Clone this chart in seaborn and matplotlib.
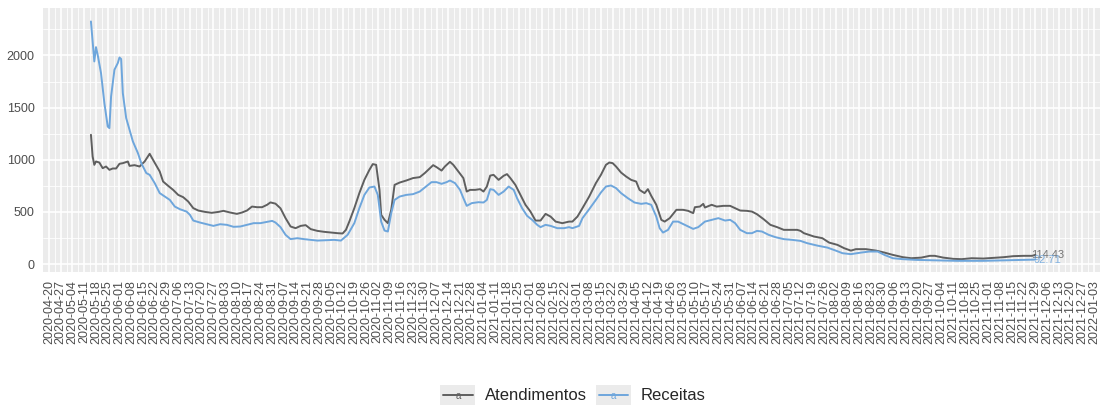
import matplotlib
matplotlib.use("Agg")
import pandas as pd
import matplotlib.pyplot as plt
import matplotlib.ticker as mticker
import matplotlib.dates as mdates
import seaborn as sns
from matplotlib.lines import Line2D
from matplotlib.patches import Rectangle
from matplotlib.text import Text
from matplotlib.legend_handler import HandlerBase

# --- dados ------------------------------------------------------------------
atend_datas = [
    "2020-05-15", "2020-05-16", "2020-05-17", "2020-05-18", "2020-05-20", "2020-05-22", "2020-05-24",
    "2020-05-26", "2020-05-28", "2020-05-30", "2020-06-01", "2020-06-03", "2020-06-06", "2020-06-07",
    "2020-06-10", "2020-06-13", "2020-06-16", "2020-06-19", "2020-06-21", "2020-06-25", "2020-06-27",
    "2020-06-30", "2020-07-03", "2020-07-06", "2020-07-09", "2020-07-12", "2020-07-15", "2020-07-18",
    "2020-07-22", "2020-07-26", "2020-07-30", "2020-08-02", "2020-08-06", "2020-08-10", "2020-08-13",
    "2020-08-16", "2020-08-19", "2020-08-22", "2020-08-25", "2020-08-28", "2020-08-30", "2020-09-02",
    "2020-09-05", "2020-09-08", "2020-09-11", "2020-09-14", "2020-09-17", "2020-09-20", "2020-09-23",
    "2020-09-27", "2020-10-01", "2020-10-05", "2020-10-09", "2020-10-12", "2020-10-14", "2020-10-16",
    "2020-10-19", "2020-10-22", "2020-10-25", "2020-10-28", "2020-10-30", "2020-11-01", "2020-11-03",
    "2020-11-04", "2020-11-06", "2020-11-08", "2020-11-10", "2020-11-12", "2020-11-15", "2020-11-19",
    "2020-11-23", "2020-11-27", "2020-11-30", "2020-12-05", "2020-12-07", "2020-12-10", "2020-12-12",
    "2020-12-15", "2020-12-17", "2020-12-20", "2020-12-23", "2020-12-25", "2020-12-27", "2020-12-30",
    "2021-01-02", "2021-01-04", "2021-01-06", "2021-01-08", "2021-01-10", "2021-01-13", "2021-01-16",
    "2021-01-18", "2021-01-20", "2021-01-23", "2021-01-26", "2021-01-29", "2021-02-01", "2021-02-04",
    "2021-02-07", "2021-02-10", "2021-02-13", "2021-02-16", "2021-02-20", "2021-02-24", "2021-02-26",
    "2021-03-01", "2021-03-04", "2021-03-08", "2021-03-12", "2021-03-15", "2021-03-18", "2021-03-20",
    "2021-03-22", "2021-03-24", "2021-03-27", "2021-03-30", "2021-04-02", "2021-04-05", "2021-04-07",
    "2021-04-10", "2021-04-12", "2021-04-14", "2021-04-17", "2021-04-20", "2021-04-22", "2021-04-25",
    "2021-04-29", "2021-05-03", "2021-05-06", "2021-05-09", "2021-05-10", "2021-05-13", "2021-05-15",
    "2021-05-16", "2021-05-20", "2021-05-23", "2021-05-27", "2021-05-31", "2021-06-03", "2021-06-06",
    "2021-06-10", "2021-06-13", "2021-06-16", "2021-06-20", "2021-06-24", "2021-06-28", "2021-07-02",
    "2021-07-06", "2021-07-10", "2021-07-12", "2021-07-14", "2021-07-20", "2021-07-25", "2021-07-29",
    "2021-08-03", "2021-08-07", "2021-08-11", "2021-08-14", "2021-08-20", "2021-08-26", "2021-08-31",
    "2021-09-05", "2021-09-11", "2021-09-16", "2021-09-22", "2021-09-27", "2021-09-30", "2021-10-05",
    "2021-10-11", "2021-10-16", "2021-10-22", "2021-10-29", "2021-11-04", "2021-11-10", "2021-11-16",
    "2021-11-22", "2021-11-27", "2021-11-29",
]
atend_valores = [
    1240, 1032, 952, 984, 974, 920, 936, 904, 917, 917, 962, 968, 984, 942,
    949, 936, 984, 1058, 1000, 888, 792, 751, 712, 664, 642, 600, 537, 514,
    501, 492, 501, 511, 495, 482, 495, 514, 552, 546, 546, 569, 592, 580,
    535, 441, 361, 345, 367, 374, 336, 319, 310, 303, 297, 294, 329, 408,
    537, 681, 808, 904, 959, 952, 712, 473, 425, 393, 521, 760, 782, 802,
    825, 834, 873, 949, 930, 897, 936, 981, 952, 888, 825, 696, 712, 712,
    719, 696, 744, 849, 856, 808, 847, 863, 825, 760, 664, 569, 504, 418,
    418, 482, 456, 408, 393, 408, 408, 456, 537, 648, 777, 856, 952, 974,
    968, 936, 878, 840, 808, 792, 712, 681, 719, 655, 569, 425, 408, 441,
    521, 521, 511, 489, 546, 552, 578, 543, 569, 552, 559, 559, 537, 514,
    511, 504, 479, 431, 377, 355, 329, 329, 329, 319, 297, 265, 249, 207,
    185, 153, 130, 144, 144, 130, 111, 89, 67, 57, 63, 80, 80, 63,
    51, 48, 57, 54, 60, 67, 77, 80, 80, 89,
]

rec_datas = [
    "2020-05-15", "2020-05-17", "2020-05-18", "2020-05-19", "2020-05-21", "2020-05-23", "2020-05-25",
    "2020-05-26", "2020-05-27", "2020-05-29", "2020-05-31", "2020-06-01", "2020-06-02", "2020-06-03",
    "2020-06-05", "2020-06-07", "2020-06-09", "2020-06-12", "2020-06-14", "2020-06-17", "2020-06-19",
    "2020-06-22", "2020-06-25", "2020-06-28", "2020-07-01", "2020-07-04", "2020-07-07", "2020-07-11",
    "2020-07-13", "2020-07-15", "2020-07-19", "2020-07-23", "2020-07-27", "2020-07-31", "2020-08-04",
    "2020-08-08", "2020-08-12", "2020-08-16", "2020-08-20", "2020-08-24", "2020-08-28", "2020-08-31",
    "2020-09-02", "2020-09-05", "2020-09-08", "2020-09-11", "2020-09-15", "2020-09-19", "2020-09-23",
    "2020-09-27", "2020-10-02", "2020-10-07", "2020-10-11", "2020-10-15", "2020-10-19", "2020-10-22",
    "2020-10-25", "2020-10-28", "2020-10-31", "2020-11-02", "2020-11-04", "2020-11-06", "2020-11-08",
    "2020-11-10", "2020-11-12", "2020-11-15", "2020-11-19", "2020-11-23", "2020-11-27", "2020-11-30",
    "2020-12-04", "2020-12-07", "2020-12-10", "2020-12-13", "2020-12-15", "2020-12-18", "2020-12-21",
    "2020-12-23", "2020-12-25", "2020-12-28", "2021-01-01", "2021-01-04", "2021-01-06", "2021-01-08",
    "2021-01-10", "2021-01-13", "2021-01-16", "2021-01-19", "2021-01-22", "2021-01-24", "2021-01-27",
    "2021-01-30", "2021-02-02", "2021-02-05", "2021-02-07", "2021-02-10", "2021-02-13", "2021-02-17",
    "2021-02-21", "2021-02-24", "2021-02-26", "2021-03-02", "2021-03-04", "2021-03-08", "2021-03-12",
    "2021-03-15", "2021-03-18", "2021-03-21", "2021-03-24", "2021-03-27", "2021-03-31", "2021-04-04",
    "2021-04-08", "2021-04-11", "2021-04-14", "2021-04-17", "2021-04-19", "2021-04-21", "2021-04-24",
    "2021-04-27", "2021-04-30", "2021-05-04", "2021-05-09", "2021-05-12", "2021-05-16", "2021-05-20",
    "2021-05-24", "2021-05-28", "2021-05-31", "2021-06-03", "2021-06-06", "2021-06-10", "2021-06-13",
    "2021-06-16", "2021-06-19", "2021-06-23", "2021-06-27", "2021-07-02", "2021-07-07", "2021-07-12",
    "2021-07-16", "2021-07-22", "2021-07-28", "2021-08-02", "2021-08-06", "2021-08-11", "2021-08-17",
    "2021-08-22", "2021-08-27", "2021-08-31", "2021-09-05", "2021-09-11", "2021-09-19", "2021-09-27",
    "2021-10-05", "2021-10-13", "2021-10-21", "2021-10-29", "2021-11-06", "2021-11-14", "2021-11-22",
    "2021-11-29",
]
rec_valores = [
    2326, 1943, 2080, 2007, 1831, 1544, 1319, 1304, 1607, 1863, 1927, 1981, 1966, 1639,
    1400, 1288, 1176, 1064, 968, 873, 856, 777, 681, 648, 616, 552, 527, 504,
    473, 418, 399, 383, 367, 383, 377, 358, 361, 377, 393, 393, 406, 415,
    399, 355, 281, 240, 249, 240, 233, 226, 230, 233, 226, 281, 393, 537,
    664, 735, 744, 664, 408, 322, 313, 489, 616, 648, 664, 671, 696, 735,
    786, 786, 770, 786, 802, 777, 712, 633, 559, 585, 594, 591, 616, 719,
    712, 664, 696, 744, 712, 633, 537, 463, 425, 377, 355, 377, 367, 345,
    345, 355, 345, 367, 441, 527, 616, 687, 744, 754, 729, 681, 633, 591,
    578, 585, 569, 456, 345, 303, 329, 408, 408, 377, 338, 355, 408, 425,
    441, 418, 425, 393, 329, 297, 297, 319, 313, 281, 259, 240, 233, 223,
    201, 178, 159, 130, 105, 96, 111, 121, 121, 89, 57, 48, 41, 38,
    35, 32, 32, 32, 35, 38, 41, 44,
]

series = ["Atendimentos", "Receitas"]
cores = ["#5f5f5f", "#6ea6dc"]
rotulos_fim = ["114.43", "92.71"]

# --- montagem ----------------------------------------------------------------
df = pd.concat([
    pd.DataFrame({"data": pd.to_datetime(atend_datas), "valor": atend_valores, "serie": series[0]}),
    pd.DataFrame({"data": pd.to_datetime(rec_datas), "valor": rec_valores, "serie": series[1]}),
])

sns.set_theme(style="white")
plt.rcParams["font.family"] = ["Liberation Sans", "DejaVu Sans"]

fig = plt.figure(figsize=(11.02, 4.07), dpi=100)
ax = fig.add_axes([43 / 1102, 1 - 272 / 407, 1057 / 1102, 264 / 407])
ax.set_facecolor("#EBEBEB")

sns.lineplot(data=df, x="data", y="valor", hue="serie", palette=dict(zip(series, cores)),
             linewidth=1.4, legend=False, ax=ax, zorder=3)

# rótulos no fim de cada série (sobrepostos como no original)
for nome, cor, rot in zip(series, cores, rotulos_fim):
    ultimo = df[df["serie"] == nome].iloc[-1]
    ax.text(ultimo["data"] + pd.Timedelta(days=7), ultimo["valor"], rot, color=cor,
            fontsize=8, ha="center", va="center", alpha=0.85, zorder=4)

semanas = pd.date_range("2020-04-20", "2022-01-03", freq="7D")
ax.set_xticks(semanas)
ax.set_xticklabels([d.strftime("%Y-%m-%d") for d in semanas])
ax.xaxis.set_minor_locator(mticker.FixedLocator(mdates.date2num(semanas[:-1] + pd.Timedelta(days=3.5))))
ax.set_yticks([0, 500, 1000, 1500, 2000])
ax.yaxis.set_minor_locator(mticker.FixedLocator([250, 750, 1250, 1750, 2250]))

ax.set_xlim(pd.Timestamp("2020-04-16 10:00"), pd.Timestamp("2022-01-06 12:00"))
ax.set_ylim(-75, 2455)

ax.grid(which="major", color="white", linewidth=1.2)
ax.grid(which="minor", color="white", linewidth=0.6)
ax.set_axisbelow(True)
for s in ax.spines.values():
    s.set_visible(False)

ax.tick_params(axis="x", which="major", labelrotation=90, length=4, width=1.6,
               color="#333333", labelsize=9, labelcolor="#4D4D4D", pad=2)
ax.tick_params(axis="y", which="major", length=4, width=1.4,
               color="#333333", labelsize=9, labelcolor="#4D4D4D", pad=2)
ax.tick_params(which="minor", length=0)
ax.set_xlabel("")
ax.set_ylabel("")


class ChaveGG(HandlerBase):
    """Chave de legenda no estilo ggplot: fundo cinza, linha e um 'a'."""

    def create_artists(self, legend, orig, xd, yd, w, h, fs, trans):
        fundo = Rectangle((-xd, -yd), w, h, facecolor="#EBEBEB", edgecolor="none", transform=trans)
        ym = -yd + h / 2
        linha = Line2D([-xd + 2, -xd + w - 2], [ym, ym], color=orig.get_color(),
                       linewidth=1.4, transform=trans)
        letra = Text(-xd + w / 2, ym - 1, "a", color=orig.get_color(), fontsize=7,
                     ha="center", va="center", transform=trans)
        return [fundo, linha, letra]


alcas = [Line2D([], [], color=c) for c in cores]
fig.legend(alcas, series, handler_map={Line2D: ChaveGG()}, loc="center",
           bbox_to_anchor=(573 / 1102, 1 - 395 / 407), ncol=2, frameon=False,
           fontsize=12, handlelength=2.1, handleheight=1.5, handletextpad=0.6,
           columnspacing=0.5, borderpad=0)

fig.savefig("out.png", dpi=100)
